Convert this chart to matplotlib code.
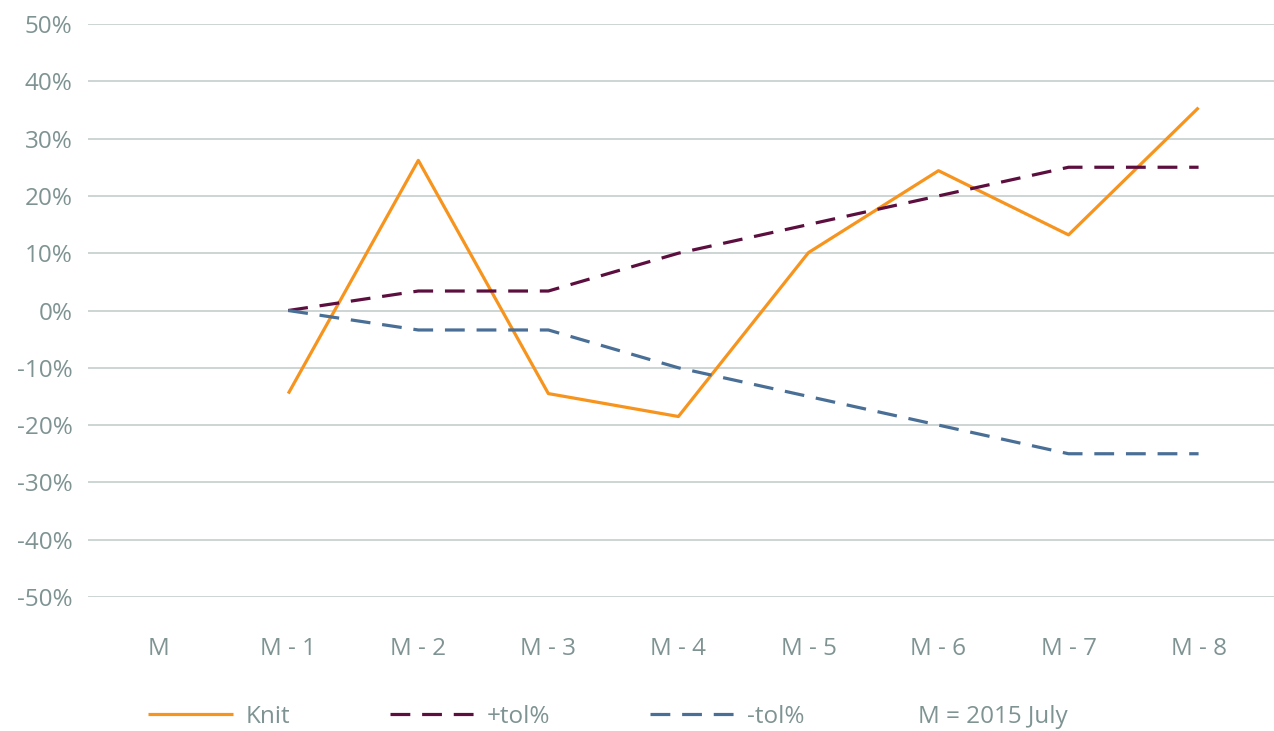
import matplotlib.pyplot as plt

# categories and series (fractions)
months = ["M", "M - 1", "M - 2", "M - 3", "M - 4", "M - 5", "M - 6", "M - 7", "M - 8"]
knit = [None, -0.145, 0.262, -0.145, -0.185, 0.101, 0.244, 0.132, 0.354]
tol_plus = [None, 0.0, 0.034, 0.034, 0.10, 0.15, 0.20, 0.25, 0.25]
tol_minus = [None, 0.0, -0.034, -0.034, -0.10, -0.15, -0.20, -0.25, -0.25]
y_ticks = [0.5, 0.4, 0.3, 0.2, 0.1, 0.0, -0.1, -0.2, -0.3, -0.4, -0.5]
note = "M = 2015 July"

TEXT = "#7f9393"
GRID = "#c3cdcd"
ORANGE = "#f7941d"
MAROON = "#5c0f3f"
BLUE = "#4a6f96"
FS = 17.5

plt.rcParams['font.family'] = ['Open Sans', 'DejaVu Sans']

fig = plt.figure(figsize=(12.74, 7.31), dpi=100)
ax = fig.add_axes([88 / 1274, 1 - 597 / 731, (1274 - 88) / 1274, (597 - 24) / 731])

x = list(range(len(months)))
xs = [i for i, v in zip(x, knit) if v is not None]

def clean(vals):
    return [v for v in vals if v is not None]

l1, = ax.plot(xs, clean(knit), color=ORANGE, lw=2.3, solid_capstyle='butt')
l2, = ax.plot(xs, clean(tol_plus), color=MAROON, lw=2.3, dashes=(6.2, 3.7))
l3, = ax.plot(xs, clean(tol_minus), color=BLUE, lw=2.3, dashes=(6.2, 3.7))

ax.set_ylim(-0.5, 0.5)
ax.set_xlim(-0.54, 8.58)
ax.set_yticks(y_ticks)
ax.set_yticklabels([f"{int(round(v * 100))}%" for v in y_ticks])
ax.set_xticks(x)
ax.set_xticklabels(months)
ax.grid(axis='y', color=GRID, lw=1.2)
ax.set_axisbelow(True)
for s in ax.spines.values():
    s.set_visible(False)
ax.tick_params(axis='both', length=0, colors=TEXT, labelsize=FS)
ax.tick_params(axis='x', pad=29)
ax.tick_params(axis='y', pad=11)

fig.legend([l1, l2, l3], ["Knit", "+tol%", "-tol%"],
           loc='center left', bbox_to_anchor=(148 / 1274, 1 - 717 / 731), ncol=3,
           frameon=False, fontsize=FS, handlelength=3.5, columnspacing=4.1,
           labelcolor=TEXT, handletextpad=0.5, borderpad=0, borderaxespad=0)
fig.text(918 / 1274, 1 - 717 / 731, note, color=TEXT, fontsize=FS, va='center', ha='left')

fig.savefig("out.png", dpi=100)
